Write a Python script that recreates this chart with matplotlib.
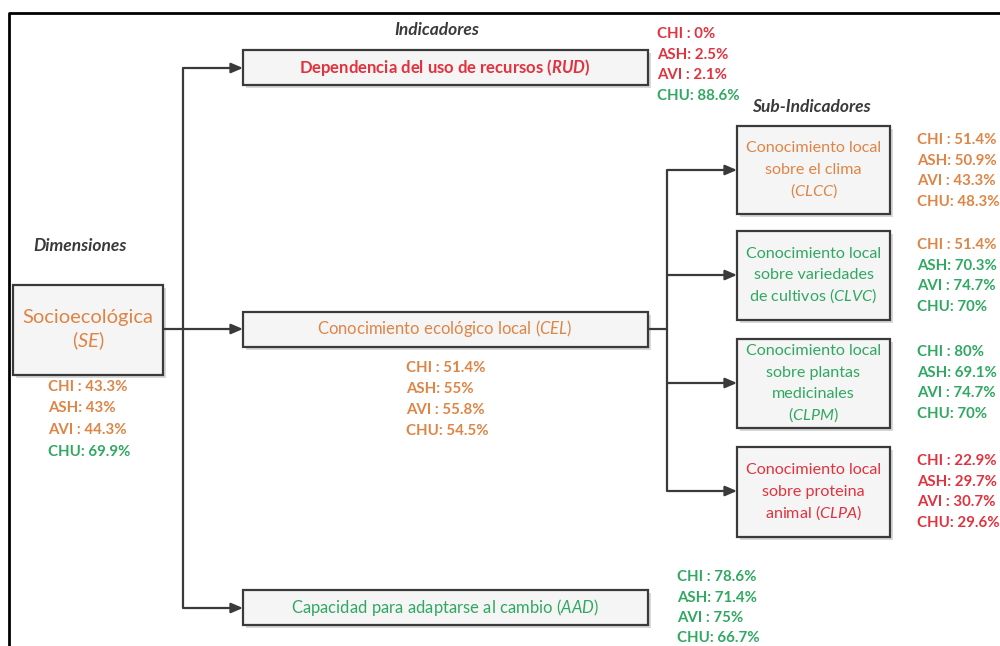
import matplotlib
matplotlib.use("Agg")
import matplotlib.pyplot as plt
from matplotlib.patches import Rectangle

plt.rcParams['font.family'] = ['Lato', 'DejaVu Sans']
plt.rcParams['mathtext.fontset'] = 'custom'
plt.rcParams['mathtext.rm'] = 'Lato'
plt.rcParams['mathtext.it'] = 'Lato:italic'
plt.rcParams['mathtext.bf'] = 'Lato:bold'
plt.rcParams['mathtext.bfit'] = 'Lato:italic:bold'

# ---------------- data ----------------
communities = ['CHI : ', 'ASH: ', 'AVI : ', 'CHU: ']
se_vals   = [43.3, 43, 44.3, 69.9]
rud_vals  = [0, 2.5, 2.1, 88.6]
cel_vals  = [51.4, 55, 55.8, 54.5]
aad_vals  = [78.6, 71.4, 75, 66.7]
clcc_vals = [51.4, 50.9, 43.3, 48.3]
clvc_vals = [51.4, 70.3, 74.7, 70]
clpm_vals = [80, 69.1, 74.7, 70]
clpa_vals = [22.9, 29.7, 30.7, 29.6]

RED = '#e2323e'
ORANGE = '#de8546'
GREEN = '#30a862'
EDGE = '#3a3a3a'
HEAD = '#3a3a3a'

def vcolor(v):
    if v < 40:
        return RED
    if v < 60:
        return ORANGE
    return GREEN

fig = plt.figure(figsize=(10, 6.46), dpi=100)
ax = fig.add_axes([0, 0, 1, 1])
ax.set_xlim(0, 1000)
ax.set_ylim(646, 0)
ax.axis('off')

# outer frame
ax.plot([9, 9, 1000], [646, 13, 13], color='black', lw=2, solid_capstyle='butt')

def box(x0, y0, x1, y1):
    ax.add_patch(Rectangle((x0 + 3, y0 + 3), x1 - x0, y1 - y0, facecolor='#d8d8d8',
                           edgecolor='none', zorder=1))
    ax.add_patch(Rectangle((x0, y0), x1 - x0, y1 - y0, facecolor='#f5f5f5',
                           edgecolor=EDGE, lw=1.6, zorder=2))

def arrow(x0, y0, x1, y1):
    ax.annotate('', xy=(x1, y1), xytext=(x0, y0),
                arrowprops=dict(arrowstyle='-|>,head_length=0.7,head_width=0.3',
                                color=EDGE, lw=1.6, shrinkA=0, shrinkB=0), zorder=3)

def line(xs, ys):
    ax.plot(xs, ys, color=EDGE, lw=1.6, zorder=3, solid_capstyle='butt')

def values(vals, x, y0, dy=20.8, size=10.8):
    for i, (c, v) in enumerate(zip(communities, vals)):
        ax.text(x, y0 + i * dy, f'{c}{v:g}%', color=vcolor(v), fontsize=size,
                fontweight='bold', ha='left', va='center', zorder=4)

def lines(x, yc, txts, color, size, dy, weight='normal'):
    n = len(txts)
    for i, t in enumerate(txts):
        yy = yc + (i - (n - 1) / 2) * dy
        ax.text(x, yy + size * 0.42, t, fontsize=size, color=color, ha='center',
                va='baseline', fontweight=weight, zorder=4)

# headers
hdr = dict(fontsize=12.5, style='italic', fontweight='bold', color=HEAD,
           ha='center', va='center')
ax.text(437, 30, 'Indicadores', **hdr)
ax.text(811, 107, 'Sub-Indicadores', **hdr)
ax.text(80, 246, 'Dimensiones', **hdr)

# connectors
line([183, 183], [68, 608])
arrow(183, 68, 243, 68)
arrow(163, 329, 243, 329)
arrow(183, 608, 243, 608)
line([648, 667], [329, 329])
line([667, 667], [170, 491])
for yy in [170, 275, 383, 491]:
    arrow(667, yy, 737, yy)

# SE box
box(13, 285, 163, 375)
lines(88, 329, ['Socioecológica', '($\\mathit{SE}$)'], ORANGE, 14.5, 24)
values(se_vals, 48, 387, dy=21.5)

# indicator boxes
box(243, 50, 648, 85)
lines(445, 67.5, ['Dependencia del uso de recursos ($\\mathbfit{RUD}$)'], RED, 12, 0,
      weight='bold')
values(rud_vals, 657, 34, dy=20.7)

box(243, 312, 648, 347)
lines(445, 329, ['Conocimiento ecológico local ($\\mathit{CEL}$)'], ORANGE, 12, 0)
values(cel_vals, 406, 368, dy=21)

box(243, 590, 648, 625)
lines(445, 607.5, ['Capacidad para adaptarse al cambio ($\\mathit{AAD}$)'], GREEN, 12, 0)
values(aad_vals, 677, 577, dy=20.5)

# sub-indicator boxes
subs = [
    (126, 214, ['Conocimiento local', 'sobre el clima', '($\\mathit{CLCC}$)'], ORANGE, clcc_vals, 140),
    (231, 320, ['Conocimiento local', 'sobre variedades', 'de cultivos ($\\mathit{CLVC}$)'], GREEN, clvc_vals, 245),
    (339, 428, ['Conocimiento local', 'sobre plantas', 'medicinales', '($\\mathit{CLPM}$)'], GREEN, clpm_vals, 352),
    (447, 537, ['Conocimiento local', 'sobre proteina', 'animal ($\\mathit{CLPA}$)'], RED, clpa_vals, 461),
]
for y0, y1, txt, col, vals, vy in subs:
    box(737, y0, 890, y1)
    lines(813.5, (y0 + y1) / 2 - 1, txt, col, 11.6, 21.5)
    values(vals, 917, vy, dy=20.7)

fig.savefig('out.png', dpi=100)
